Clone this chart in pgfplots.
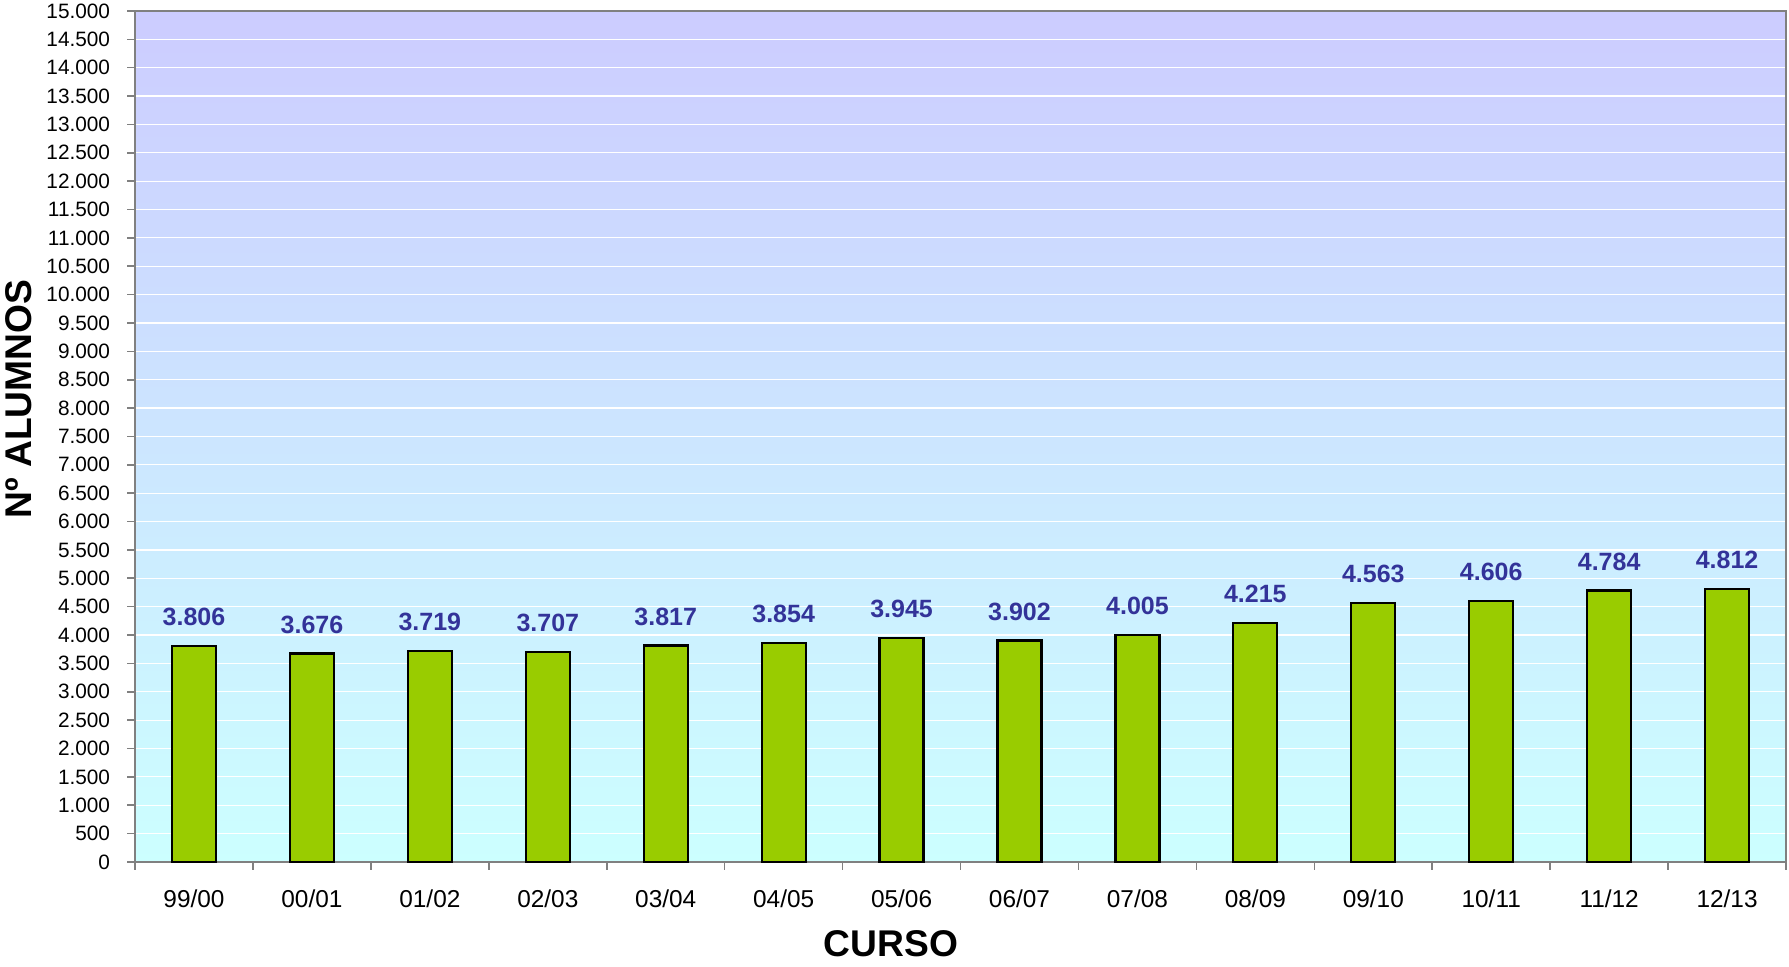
\documentclass[border=0pt]{standalone}
\usepackage{pgfplots}
\pgfplotsset{compat=1.18}
\usepackage{fontspec}
\setmainfont{Liberation Sans}

\definecolor{barfill}{HTML}{99CC00}
\definecolor{lbl}{HTML}{333399}
\definecolor{bgtop}{HTML}{CCCCFF}
\definecolor{bgbot}{HTML}{CCFFFF}
\definecolor{axgray}{HTML}{808080}

\begin{document}
\begin{tikzpicture}
\begin{axis}[
  width=825.5pt, height=425.5pt, scale only axis,
  clip=false,
  xmin=-0.5, xmax=13.5, ymin=0, ymax=15000,
  ybar, bar width=22pt,
  axis background/.style={top color=bgtop, bottom color=bgbot},
  axis line style={axgray, line width=1pt},
  xtick={-0.5,0.5,...,13.5},
  x tick label as interval,
  xticklabels={99/00,00/01,01/02,02/03,03/04,04/05,05/06,06/07,07/08,08/09,09/10,10/11,11/12,12/13},
  ytick distance=500,
  scaled y ticks=false,
  xtick pos=bottom, ytick pos=left,
  tick align=outside,
  major tick length=3.8pt,
  tick style={axgray, line width=0.8pt},
  ymajorgrids,
  grid style={white, line width=0.6pt},
  /pgf/number format/1000 sep={.},
  /pgf/number format/assume math mode=true,
  yticklabel style={font=\fontsize{10.4}{12}\selectfont, anchor=east, inner sep=0pt, xshift=-8.5pt},
  xticklabel style={font=\fontsize{12.2}{14}\selectfont, anchor=north, inner sep=0pt, yshift=-10pt},
  xlabel={CURSO},
  ylabel={Nº ALUMNOS},
  xlabel style={at={(axis description cs:0.4578,-0.0964)}, anchor=center, inner sep=0pt, font=\bfseries\fontsize{18.6}{20}\selectfont},
  ylabel style={at={(axis description cs:-0.0703,0.544)}, anchor=center, rotate=0, inner sep=0pt, font=\bfseries\fontsize{18.6}{20}\selectfont},
  nodes near coords,
  every node near coord/.append style={anchor=south, inner sep=0pt, yshift=9.5pt, text=lbl, font=\bfseries\fontsize{12.5}{14}\selectfont},
]
\addplot[fill=barfill, draw=black, line width=1.1pt] coordinates {
  (0,3806) (1,3676) (2,3719) (3,3707) (4,3817) (5,3854) (6,3945)
  (7,3902) (8,4005) (9,4215) (10,4563) (11,4606) (12,4784) (13,4812)
};
\path (rel axis cs:-0.0818,-0.1234) rectangle (rel axis cs:1.0018,1.0129);
\end{axis}
\end{tikzpicture}
\end{document}
